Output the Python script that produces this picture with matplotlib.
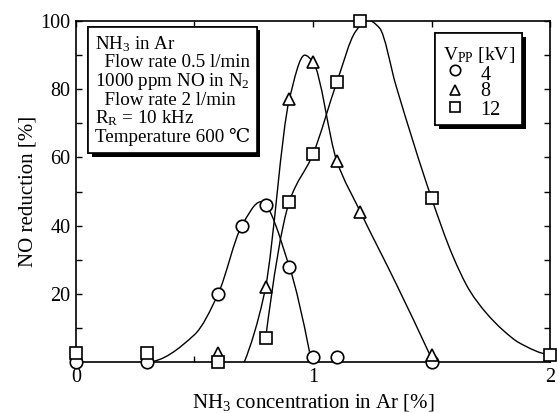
import matplotlib
matplotlib.use("Agg")
import matplotlib.pyplot as plt
from matplotlib.path import Path
from matplotlib.patches import PathPatch, Rectangle
from matplotlib import patheffects
import numpy as np

plt.rcParams['font.family'] = ['Liberation Serif', 'DejaVu Serif']
plt.rcParams['mathtext.fontset'] = 'custom'
plt.rcParams['mathtext.rm'] = 'Liberation Serif'
plt.rcParams['mathtext.default'] = 'regular'

# Measured NO reduction [%] vs NH3 concentration [%]
x_4kv = [0.0, 0.3, 0.6, 0.7, 0.8, 0.9, 1.0, 1.1, 1.5]
y_4kv = [0, 0, 20, 40, 46, 28, 1.5, 1.5, 0]

x_8kv = [0.6, 0.8, 0.9, 1.0, 1.1, 1.2, 1.5]
y_8kv = [2.5, 22, 77, 88, 59, 44, 2]

x_12kv = [0.0, 0.3, 0.6, 0.8, 0.9, 1.0, 1.1, 1.2, 1.5, 2.0]
y_12kv = [2.5, 2.5, 0, 7, 47, 61, 82, 100, 48, 2]

series_labels = ['4', '8', '12']
series_markers = ['o', '^', 's']

# Hand-drawn trend curves through the measurements
cx_4kv = [0.3, 0.5, 0.6, 0.7, 0.78, 0.9, 0.985]
cy_4kv = [0, 8, 20, 40, 47, 28, 3]

cx_8kv = [0.71, 0.75, 0.8, 0.9, 0.965, 1.0, 1.1, 1.2, 1.35, 1.5]
cy_8kv = [0, 8, 22, 77, 90, 88, 59, 44, 23, 1]

cx_12kv = [0.8, 0.9, 1.0, 1.1, 1.18, 1.23, 1.28, 1.35, 1.5, 1.59, 1.66,
           1.73, 1.8, 1.87, 2.0]
cy_12kv = [7, 47, 61, 82, 97, 100.3, 98, 81, 48, 31, 21, 14.4, 9.4, 5.6, 2]


def pchip_slopes(x, y):
    h = np.diff(x)
    d = np.diff(y) / h
    n = len(x)
    m = np.zeros(n)
    for i in range(1, n - 1):
        if d[i - 1] * d[i] > 0:
            w1 = 2 * h[i] + h[i - 1]
            w2 = h[i] + 2 * h[i - 1]
            m[i] = (w1 + w2) / (w1 / d[i - 1] + w2 / d[i])
    for i, (h0, h1, d0, d1) in ((0, (h[0], h[1], d[0], d[1])),
                                (n - 1, (h[-1], h[-2], d[-1], d[-2]))):
        e = ((2 * h0 + h1) * d0 - h0 * d1) / (h0 + h1)
        if np.sign(e) != np.sign(d0):
            e = 0.0
        elif np.sign(d0) != np.sign(d1) and abs(e) > abs(3 * d0):
            e = 3 * d0
        m[i] = e
    return m


def smooth_path(xs, ys):
    x = np.asarray(xs, float)
    y = np.asarray(ys, float)
    m = pchip_slopes(x, y)
    verts = [(x[0], y[0])]
    codes = [Path.MOVETO]
    for i in range(len(x) - 1):
        dx = (x[i + 1] - x[i]) / 3.0
        verts += [(x[i] + dx, y[i] + m[i] * dx),
                  (x[i + 1] - dx, y[i + 1] - m[i + 1] * dx),
                  (x[i + 1], y[i + 1])]
        codes += [Path.CURVE4] * 3
    return Path(verts, codes)


fig = plt.figure(figsize=(5.58, 4.13), dpi=100)
ax = fig.add_axes([0.136, 0.1235, 0.986 - 0.136, 0.949 - 0.1235])

for cx, cy in [(cx_4kv, cy_4kv), (cx_8kv, cy_8kv), (cx_12kv, cy_12kv)]:
    ax.add_patch(PathPatch(smooth_path(cx, cy), facecolor='none',
                           edgecolor='black', lw=1.0, zorder=2))

mk = dict(linestyle='none', markerfacecolor='white', markeredgecolor='black',
          markeredgewidth=1.2, clip_on=False)
for z, (xs, ys, m) in enumerate([(x_4kv, y_4kv, series_markers[0]),
                                 (x_8kv, y_8kv, series_markers[1]),
                                 (x_12kv, y_12kv, series_markers[2])]):
    ax.plot(xs, ys, marker=m, markersize=9, zorder=3 + z, **mk)

ax.set_xlim(0, 2)
ax.set_ylim(0, 100)
ax.set_xticks([0, 1, 2])
ax.set_xticks([0.5, 1.5], minor=True)
ax.set_yticks([20, 40, 60, 80, 100])
ax.set_yticks(np.arange(10, 100, 20), minor=True)
ax.tick_params(which='both', direction='in', top=True, right=True,
               labelsize=14.5, width=1.0, length=4, pad=4)
for s in ax.spines.values():
    s.set_linewidth(1.2)

ax.set_xlabel('NH$_3$ concentration in Ar [%]', fontsize=15, labelpad=4)
ax.set_ylabel('NO reduction [%]', fontsize=15, labelpad=2)

shadow = [patheffects.withSimplePatchShadow(offset=(2.5, -2.5),
                                            shadow_rgbFace='black', alpha=1.0),
          patheffects.Normal()]

# Conditions box
info = ('NH$_3$ in Ar\n'
        '  Flow rate 0.5 l/min\n'
        '1000 ppm NO in N$_2$\n'
        '  Flow rate 2 l/min\n'
        'R$_R$ = 10 kHz\n'
        'Temperature 600 \u2103')
t = ax.text(0.040, 0.962, info, transform=ax.transAxes, fontsize=13.7,
            va='top', ha='left', linespacing=1.0, zorder=6,
            bbox=dict(boxstyle='square,pad=0.35', facecolor='white',
                      edgecolor='black', lw=1.2))
t.get_bbox_patch().set_path_effects(shadow)

# Legend box
lx0, lx1, ly0, ly1 = 0.7574, 0.9409, 0.695, 0.9648
frame = Rectangle((lx0, ly0), lx1 - lx0, ly1 - ly0, transform=ax.transAxes,
                  facecolor='white', edgecolor='black', lw=1.2, zorder=7,
                  clip_on=False)
frame.set_path_effects(shadow)
ax.add_patch(frame)
ax.text(0.7743, 0.8856, 'V$_{PP}$ [kV]', transform=ax.transAxes,
        fontsize=14, ha='left', va='baseline', zorder=8)
row_marker_y = [0.8563, 0.7977, 0.7478]
row_text_y = [0.8270, 0.7800, 0.7243]
for lab, m, my, ty in zip(series_labels, series_markers, row_marker_y,
                          row_text_y):
    ax.plot([0.7996], [my], marker=m, markersize=7.5, transform=ax.transAxes,
            zorder=8, **mk)
    ax.text(0.8523, ty, lab, transform=ax.transAxes, fontsize=14.5,
            ha='left', va='baseline', zorder=8)

fig.savefig('out.png', dpi=100)
